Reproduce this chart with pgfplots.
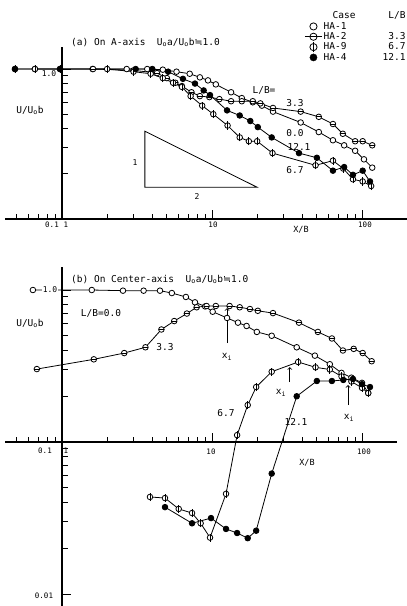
\documentclass[border=0pt]{standalone}
\usepackage{pgfplots}
\pgfplotsset{compat=1.18}
\usepackage{fontspec}
\setmainfont{DejaVu Sans Mono}
\newfontfamily\symf{DejaVu Sans}
\newcommand{\Uo}[1]{U\textsubscript{o}#1}
\newcommand{\apx}{{\symf ≒}}
\newcommand{\fsz}[1]{\fontsize{#1}{#1}\selectfont}

\pgfdeclareplotmark{ominus}{%
  \pgfpathcircle{\pgfpointorigin}{\pgfplotmarksize}\pgfusepathqfillstroke
  \pgfpathmoveto{\pgfpoint{-\pgfplotmarksize}{0pt}}%
  \pgfpathlineto{\pgfpoint{\pgfplotmarksize}{0pt}}\pgfusepathqstroke}
\pgfdeclareplotmark{ophi}{%
  \pgfpathcircle{\pgfpointorigin}{\pgfplotmarksize}\pgfusepathqfillstroke
  \pgfpathmoveto{\pgfpoint{0pt}{-1.45\pgfplotmarksize}}%
  \pgfpathlineto{\pgfpoint{0pt}{1.45\pgfplotmarksize}}\pgfusepathqstroke}

\tikzset{axl/.style={line width=1.2pt}, tk/.style={line width=1pt}}

\begin{document}
\begin{tikzpicture}
\useasboundingbox (0,0) rectangle (407pt,-606pt);

% ---------------- panel (a) ----------------
% x positions: X/B for X/B >= 1; for X/B < 0.1 the broken axis plots 10*X/B
\begin{axis}[at={(5pt,-219pt)}, anchor=south west,
  scale only axis, width=402pt, height=171.9pt,
  xmode=log, ymode=log, xmin=0.417, xmax=199.5, ymin=0.1, ymax=1.4,
  axis lines=none, xtick=\empty, ytick=\empty, clip=false,
  legend style={draw=none, fill=none, at={(1,1.213)}, anchor=north east,
    legend cell align=left, font=\fsz{9.5}, row sep=-0.6pt, inner sep=0pt,
    nodes={inner sep=1.2pt}}]
% HA-1  L/B = 0.0
\addplot[black, line width=0.8pt, mark=*, mark size=2.8pt, mark options={solid, fill=white}, forget plot] coordinates {(1.6,1.0)(2.7,1.0)(3.7,1.0)(4.7,0.99)(5.8,0.96)(7.1,0.93)(8.3,0.88)(9.4,0.84)(10.6,0.79)(13.4,0.70)(15.8,0.64)(18.7,0.60)(21.5,0.57)(25.5,0.52)(39,0.44)(51.5,0.38)(64,0.335)(76,0.31)(90,0.285)(103,0.25)(117,0.22)};
% HA-2  L/B = 3.3
\addplot[black, line width=0.8pt, mark=ominus, mark size=2.8pt, mark options={solid, fill=white}, forget plot] coordinates {(0.66,1.0)(1.61,1.0)(3.0,0.98)(4.3,0.94)(5.0,0.87)(5.7,0.81)(6.3,0.77)(7.3,0.70)(8.3,0.66)(9.6,0.65)(11.2,0.63)(13.4,0.61)(15.8,0.61)(18.7,0.61)(21,0.59)(25.5,0.55)(39,0.52)(51.5,0.48)(64,0.43)(74.5,0.37)(90,0.33)(101,0.33)(117,0.31)};
% HA-9  L/B = 6.7
\addplot[black, line width=0.8pt, mark=ophi, mark size=2.8pt, mark options={solid, fill=white}, forget plot] coordinates {(0.486,1.0)(0.66,1.0)(0.97,1.0)(2.0,1.0)(3.0,0.96)(3.9,0.93)(4.7,0.87)(5.5,0.81)(6.3,0.76)(7.2,0.66)(8.6,0.57)(10.2,0.50)(12.7,0.42)(15.3,0.35)(17.6,0.33)(20,0.33)(25.3,0.275)(49,0.228)(64,0.245)(75,0.217)(87,0.184)(101,0.178)(115,0.166)};
% HA-4  L/B = 12.1
\addplot[black, line width=0.8pt, mark=*, mark size=2.8pt, mark options={solid, fill=black}, forget plot] coordinates {(0.486,1.0)(0.97,1.0)(3.1,1.0)(4.0,1.0)(5.1,0.96)(6.4,0.86)(7.7,0.80)(8.8,0.72)(9.7,0.67)(12.6,0.53)(15.3,0.49)(18,0.45)(20.2,0.41)(25,0.35)(38,0.275)(50,0.256)(64,0.21)(76,0.222)(87,0.197)(101,0.21)(113,0.178)};

% slope triangle
\draw[line width=0.8pt] (axis cs:3.57,0.163) -- (axis cs:3.57,0.385) -- (axis cs:19.95,0.163) -- cycle;

\addlegendimage{empty legend}
\addlegendentry{\makebox[82pt][l]{\hspace{9pt}Case\hfill L/B}}
\addlegendimage{only marks, mark=*, mark size=3.6pt, mark options={fill=white, line width=0.8pt}}
\addlegendentry{\makebox[82pt][l]{HA-1}}
\addlegendimage{black, line width=0.8pt, mark=ominus, mark size=3.6pt, mark options={fill=white}}
\addlegendentry{\makebox[82pt][l]{HA-2\hfill 3.3}}
\addlegendimage{only marks, mark=ophi, mark size=3.6pt, mark options={fill=white, line width=0.8pt}}
\addlegendentry{\makebox[82pt][l]{HA-9\hfill 6.7}}
\addlegendimage{only marks, mark=*, mark size=3.6pt, mark options={fill=black}}
\addlegendentry{\makebox[82pt][l]{HA-4\hfill 12.1}}
\end{axis}

% ---------------- panel (b) ----------------
\begin{axis}[at={(5pt,-606pt)}, anchor=south west,
  scale only axis, width=402pt, height=339pt,
  xmode=log, ymode=log, xmin=0.417, xmax=199.5, ymin=0.00834, ymax=1.417,
  axis lines=none, xtick=\empty, ytick=\empty, clip=false]
% HA-1  L/B = 0.0
\addplot[black, line width=0.8pt, mark=*, mark size=2.8pt, mark options={solid, fill=white}] coordinates {(0.64,1.0)(1.58,1.0)(2.55,0.99)(3.5,0.99)(4.5,0.99)(5.4,0.955)(6.7,0.90)(7.7,0.83)(9.0,0.78)(10.1,0.72)(12.6,0.655)(14.9,0.61)(17,0.58)(19.9,0.53)(25,0.50)(36.7,0.42)(48.5,0.37)(61,0.325)(73,0.285)(85,0.265)(100,0.245)(110,0.21)};
% HA-2  L/B = 3.3
\addplot[black, line width=0.8pt, mark=ominus, mark size=2.8pt, mark options={solid, fill=white}] coordinates {(0.68,0.302)(1.63,0.35)(2.6,0.385)(3.6,0.42)(4.6,0.55)(5.6,0.625)(6.8,0.70)(7.9,0.77)(9.2,0.785)(10.6,0.785)(13.1,0.785)(15.3,0.77)(17.9,0.75)(20.2,0.73)(25.5,0.705)(38,0.61)(50.8,0.53)(63,0.48)(74.6,0.40)(88,0.41)(101,0.385)(116,0.34)};
% HA-9  L/B = 6.7
\addplot[black, line width=0.8pt, mark=ophi, mark size=2.8pt, mark options={solid, fill=white}] coordinates {(3.86,0.0435)(4.86,0.0428)(6.0,0.0363)(7.36,0.0341)(8.4,0.0292)(9.7,0.0235)(12.4,0.0456)(14.7,0.111)(17.3,0.175)(19.7,0.23)(25,0.29)(37.5,0.336)(49,0.31)(61,0.30)(73,0.27)(85,0.25)(100,0.227)(110,0.21)};
% HA-4  L/B = 12.1
\addplot[black, line width=0.8pt, mark=*, mark size=2.8pt, mark options={solid, fill=black}] coordinates {(4.86,0.0373)(7.36,0.0292)(9.85,0.0316)(12.4,0.0268)(14.7,0.0252)(17.3,0.0233)(19.7,0.0261)(25,0.062)(36.7,0.2)(50,0.252)(63,0.252)(75,0.256)(87,0.26)(100,0.24)(113,0.23)};

% x_i markers
\draw[line width=0.8pt, ->] (axis cs:12.6,0.448) -- (axis cs:12.6,0.76);
\draw[line width=0.8pt, ->] (axis cs:33,0.248) -- (axis cs:33,0.311);
\draw[line width=0.8pt, ->] (axis cs:80.7,0.175) -- (axis cs:80.7,0.237);
\end{axis}

% ---------------- axis lines and ticks (picture coordinates, 1pt = 1px) ----------------
% x = 62 + 150*log10(t); panel a: y(1.0) = -69, 150 per decade; panel b: y(1.0) = -290, 152 per decade
\draw[axl] (5pt,-219pt) -- (407pt,-219pt);
\draw[axl] (62pt,-219pt) -- (62pt,-47pt);
\draw[tk] (16.85pt,-219pt) -- ++(0pt,5pt) (28.72pt,-219pt) -- ++(0pt,5pt)
  (38.76pt,-219pt) -- ++(0pt,5pt) (47.46pt,-219pt) -- ++(0pt,5pt)
  (55.14pt,-219pt) -- ++(0pt,5pt) (107.15pt,-219pt) -- ++(0pt,5pt)
  (133.57pt,-219pt) -- ++(0pt,5pt) (152.31pt,-219pt) -- ++(0pt,5pt)
  (166.85pt,-219pt) -- ++(0pt,5pt) (178.72pt,-219pt) -- ++(0pt,5pt)
  (188.76pt,-219pt) -- ++(0pt,5pt) (197.46pt,-219pt) -- ++(0pt,5pt)
  (205.14pt,-219pt) -- ++(0pt,5pt) (257.15pt,-219pt) -- ++(0pt,5pt)
  (283.57pt,-219pt) -- ++(0pt,5pt) (302.31pt,-219pt) -- ++(0pt,5pt)
  (316.85pt,-219pt) -- ++(0pt,5pt) (328.72pt,-219pt) -- ++(0pt,5pt)
  (338.76pt,-219pt) -- ++(0pt,5pt) (347.46pt,-219pt) -- ++(0pt,5pt)
  (355.14pt,-219pt) -- ++(0pt,5pt)
  (212pt,-219pt) -- ++(0pt,9pt) (362pt,-219pt) -- ++(0pt,9pt);
\draw[tk] (62pt,-173.85pt) -- ++(6pt,0pt) (62pt,-147.43pt) -- ++(6pt,0pt)
  (62pt,-128.69pt) -- ++(6pt,0pt) (62pt,-114.15pt) -- ++(6pt,0pt)
  (62pt,-102.28pt) -- ++(6pt,0pt) (62pt,-92.24pt) -- ++(6pt,0pt)
  (62pt,-83.54pt) -- ++(6pt,0pt) (62pt,-75.86pt) -- ++(6pt,0pt)
  (62pt,-69pt) -- ++(9pt,0pt);

\draw[axl] (5pt,-442pt) -- (397pt,-442pt);
\draw[axl] (62pt,-606pt) -- (62pt,-267pt);
\draw[tk] (16.85pt,-442pt) -- ++(0pt,5pt) (28.72pt,-442pt) -- ++(0pt,5pt)
  (38.76pt,-442pt) -- ++(0pt,5pt) (47.46pt,-442pt) -- ++(0pt,5pt)
  (55.14pt,-442pt) -- ++(0pt,5pt) (107.15pt,-442pt) -- ++(0pt,5pt)
  (133.57pt,-442pt) -- ++(0pt,5pt) (152.31pt,-442pt) -- ++(0pt,5pt)
  (166.85pt,-442pt) -- ++(0pt,5pt) (178.72pt,-442pt) -- ++(0pt,5pt)
  (188.76pt,-442pt) -- ++(0pt,5pt) (197.46pt,-442pt) -- ++(0pt,5pt)
  (205.14pt,-442pt) -- ++(0pt,5pt) (257.15pt,-442pt) -- ++(0pt,5pt)
  (283.57pt,-442pt) -- ++(0pt,5pt) (302.31pt,-442pt) -- ++(0pt,5pt)
  (316.85pt,-442pt) -- ++(0pt,5pt) (328.72pt,-442pt) -- ++(0pt,5pt)
  (338.76pt,-442pt) -- ++(0pt,5pt) (347.46pt,-442pt) -- ++(0pt,5pt)
  (355.14pt,-442pt) -- ++(0pt,5pt)
  (212pt,-442pt) -- ++(0pt,9pt) (362pt,-442pt) -- ++(0pt,9pt);
\draw[tk] (62pt,-296.95pt) -- ++(6pt,0pt) (62pt,-304.73pt) -- ++(6pt,0pt)
  (62pt,-313.54pt) -- ++(6pt,0pt) (62pt,-323.72pt) -- ++(6pt,0pt)
  (62pt,-335.76pt) -- ++(6pt,0pt) (62pt,-350.49pt) -- ++(6pt,0pt)
  (62pt,-369.48pt) -- ++(6pt,0pt) (62pt,-396.25pt) -- ++(6pt,0pt)
  (62pt,-448.95pt) -- ++(6pt,0pt) (62pt,-456.73pt) -- ++(6pt,0pt)
  (62pt,-465.54pt) -- ++(6pt,0pt) (62pt,-475.72pt) -- ++(6pt,0pt)
  (62pt,-487.76pt) -- ++(6pt,0pt) (62pt,-502.49pt) -- ++(6pt,0pt)
  (62pt,-521.48pt) -- ++(6pt,0pt) (62pt,-548.25pt) -- ++(6pt,0pt)
  (62pt,-290pt) -- ++(9pt,0pt) (62pt,-594pt) -- ++(9pt,0pt);

% ---------------- texts ----------------
\begin{scope}[every node/.style={inner sep=0pt}]
% panel (a)
\node[anchor=west, font=\fsz{9.5}] at (71pt,-43pt) {(a) On A-axis\ \ \Uo{a}/\Uo{b}\apx1.0};
\node[font=\fsz{8}] at (49pt,-74pt) {1.0};
\node[font=\fsz{9.5}] at (30pt,-110pt) {U/\Uo{b}};
\node[font=\fsz{9.5}] at (264pt,-90pt) {L/B=};
\node[font=\fsz{9.5}] at (295pt,-103pt) {3.3};
\node[font=\fsz{9.5}] at (295pt,-133pt) {0.0};
\node[font=\fsz{9.5}] at (299pt,-147pt) {12.1};
\node[font=\fsz{9.5}] at (295pt,-170pt) {6.7};
\node[font=\fsz{8}] at (135pt,-163pt) {1};
\node[font=\fsz{8}] at (197pt,-197pt) {2};
\node[font=\fsz{7.5}] at (52pt,-225pt) {0.1};
\node[font=\fsz{7.5}] at (66pt,-225pt) {1};
\node[font=\fsz{7.5}] at (213pt,-225pt) {10};
\node[font=\fsz{7.5}] at (365pt,-225pt) {100};
\node[font=\fsz{8.5}] at (301pt,-230pt) {X/B};
% panel (b)
\node[anchor=west, font=\fsz{9.5}] at (71pt,-280pt) {(b) On Center-axis\ \ \Uo{a}/\Uo{b}\apx1.0};
\node[font=\fsz{8}, fill=white, inner sep=1pt] at (50pt,-290pt) {1.0};
\node[font=\fsz{9.5}] at (101pt,-313pt) {L/B=0.0};
\node[font=\fsz{9.5}] at (30pt,-323pt) {U/\Uo{b}};
\node[font=\fsz{9.5}] at (165pt,-347pt) {3.3};
\node[font=\fsz{9.5}] at (226pt,-413pt) {6.7};
\node[font=\fsz{9.5}] at (296pt,-422pt) {12.1};
\node[font=\fsz{9.5}] at (227pt,-357pt) {x\textsubscript{i}};
\node[font=\fsz{9.5}] at (281pt,-393pt) {x\textsubscript{i}};
\node[font=\fsz{9.5}] at (349pt,-418pt) {x\textsubscript{i}};
\node[font=\fsz{7.5}] at (45pt,-451pt) {0.1};
\node[font=\fsz{7.5}] at (66pt,-451pt) {1};
\node[font=\fsz{7.5}] at (211pt,-452pt) {10};
\node[font=\fsz{7.5}] at (364pt,-452pt) {100};
\node[font=\fsz{8.5}] at (307pt,-463pt) {X/B};
\node[font=\fsz{7.5}] at (44pt,-596pt) {0.01};
\end{scope}
\end{tikzpicture}
\end{document}
